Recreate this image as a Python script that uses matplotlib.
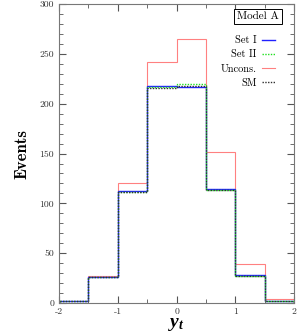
import matplotlib
matplotlib.use("Agg")
import matplotlib.pyplot as plt
import numpy as np
from matplotlib.ticker import MultipleLocator

plt.rcParams['font.family'] = ['cmr10', 'DejaVu Serif']
plt.rcParams['axes.unicode_minus'] = False
plt.rcParams['axes.formatter.use_mathtext'] = False
plt.rcParams['mathtext.fontset'] = 'custom'
plt.rcParams['mathtext.it'] = 'Liberation Serif:bold:italic'
plt.rcParams['mathtext.rm'] = 'Liberation Serif:bold'

# bin edges of y_t
edges = [-2.0, -1.5, -1.0, -0.5, 0.0, 0.5, 1.0, 1.5, 2.0]

# event counts per bin
set1 = [2, 26, 112, 218, 217, 114, 28, 2]
set2 = [2, 26, 111, 217, 220, 113, 27, 2]
uncons = [2, 27, 120, 242, 265, 152, 39, 4]
sm = [2, 26, 111, 216, 218, 113, 27, 2]

fig = plt.figure(figsize=(2.98, 3.32), dpi=100)
ax = fig.add_axes([0.198, 0.087, 0.789, 0.901])

ax.stairs(uncons, edges, color='#ff8080', lw=0.8, label='Uncons.')
ax.stairs(set1, edges, color='#2020ff', lw=1.0, label='Set I')
ax.stairs(set2, edges, color='#20e020', lw=1.0, ls=(0, (1, 1)), label='Set II')
ax.stairs(sm, edges, color='#303030', lw=1.0, ls=(0, (1, 1)), label='SM')

ax.set_xlim(-2, 2)
ax.set_ylim(0, 300)
ax.xaxis.set_major_locator(MultipleLocator(1))
ax.xaxis.set_minor_locator(MultipleLocator(0.5))
ax.yaxis.set_major_locator(MultipleLocator(50))
ax.yaxis.set_minor_locator(MultipleLocator(10))
ax.tick_params(which='both', direction='in', top=True, right=True, labelsize=7, colors='#555555', labelcolor='#333333')
ax.tick_params(which='major', length=5)
ax.tick_params(which='minor', length=3)
for s in ax.spines.values():
    s.set_color('#777777')

ax.set_ylabel('Events', fontsize=12, family='cmb10', labelpad=7)
ax.set_xlabel(r'$y_t$', fontsize=14, labelpad=-1)

handles, labels = ax.get_legend_handles_labels()
order = [1, 2, 0, 3]
leg = ax.legend([handles[i] for i in order], [labels[i] for i in order],
                loc='upper right', bbox_to_anchor=(0.96, 0.925), frameon=False,
                markerfirst=False, fontsize=7.5, handlelength=1.3, labelspacing=0.45,
                handletextpad=0.5)
ax.text(0.935, 0.958, 'Model A', transform=ax.transAxes, ha='right', va='center',
        fontsize=8, bbox=dict(boxstyle='square,pad=0.25', fc='white', ec='black', lw=0.7))

fig.savefig('out.png', dpi=100)
